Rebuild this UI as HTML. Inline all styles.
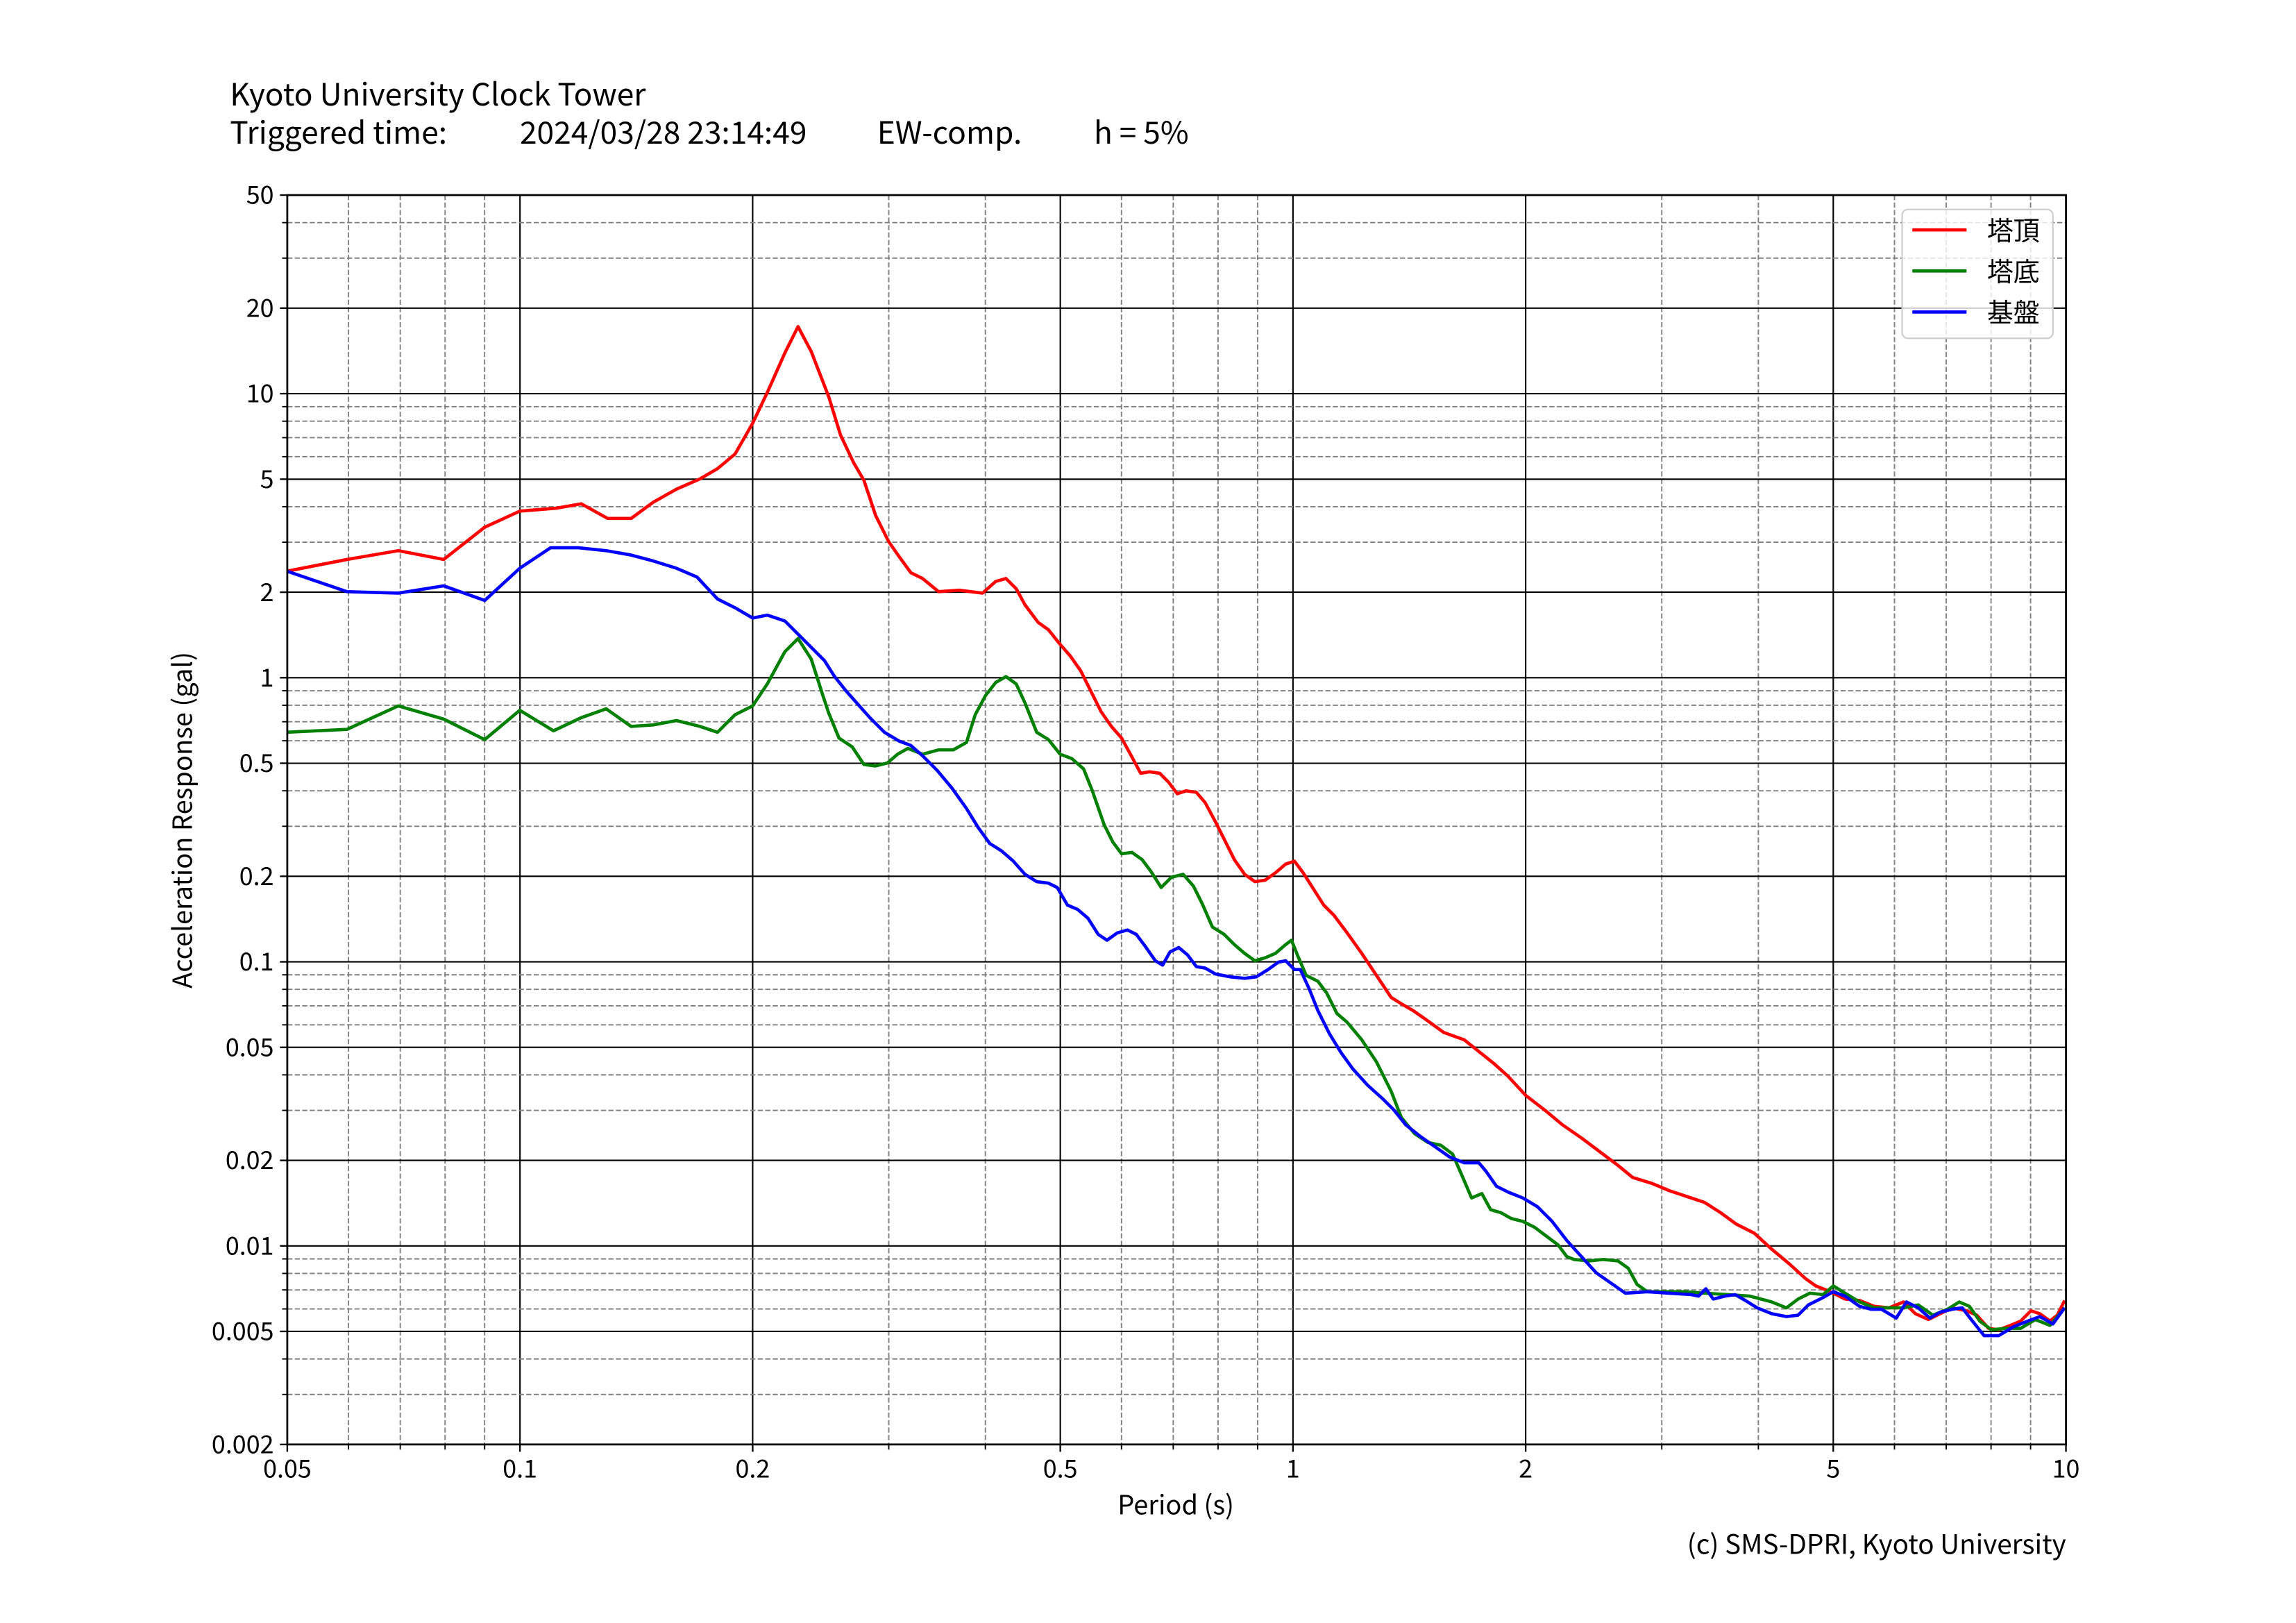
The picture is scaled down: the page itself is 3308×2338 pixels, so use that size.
<!DOCTYPE html>
<html><head><meta charset="utf-8"><style>
html,body{margin:0;padding:0;background:#fff;}
svg{display:block;}
text{font-family:"Noto Sans CJK JP","Liberation Sans",sans-serif;fill:#000;}
</style></head><body>
<svg id="s" width="3308" height="2338" viewBox="0 0 1568 1108.2" xmlns="http://www.w3.org/2000/svg">
<rect width="1568" height="1108.2" fill="#fff"/>
<g id="grid"></g>
<g fill="none" stroke-width="2.2" stroke-linejoin="round">
<polyline stroke="#ff0000" points="196,390 237,382 272,376 303,382 331,360 355,349 380,347 397,344 415,354 431,354 446,343 462,334 478,327 490,320 502,310 514,289 524,268 536,241 545,223 554,240 566,271 574,297 583,316 590,328 598,352 607,370 614,380 622,391 630,395 641,404 655,403 671,405 680,397 687,395 694,402 700,413 709,425 716,430 724,440 731,448 738,458 745,472 752,486 759,496 766,504 772,515 779,528 785,527 792,528 798,534 804,542 810,540 817,541 823,548 830,561 837,575 843,587 850,597 857,602 864,601 871,596 878,590 884,588 890,596 897,607 904,618 911,625 920,637 930,651 940,666 950,681 958,686 965,690 975,697 986,705 1000,710 1010,718 1020,726 1030,735 1042,748 1055,758 1067,768 1080,777 1092,786 1104,795 1115,804 1128,808 1140,813 1152,817 1164,821 1175,828 1186,836 1198,842 1210,853 1222,863 1233,873 1240,878 1250,882 1260,887 1270,888 1280,892 1290,893 1300,889 1308,897 1317,901 1325,897 1333,893 1343,895 1350,898 1358,907 1365,908 1373,905 1380,902 1387,895 1393,897 1400,902 1405,898 1410,888"/>
<polyline stroke="#008000" points="196,500 237,498 272,482 303,491 331,505 355,485 378,499 397,490 414,484 431,496 446,495 462,492 478,496 490,500 502,488 514,482 524,467 536,445 545,436 554,450 562,475 566,487 573,504 582,510 590,522 598,523 606,521 613,515 620,511 630,515 641,512 651,512 660,507 666,488 673,475 680,466 687,462 694,467 700,480 708,500 716,505 724,515 732,518 740,525 746,540 754,563 760,575 766,583 773,582 780,587 786,595 793,606 800,599 808,597 815,605 821,617 828,633 836,638 843,645 850,651 857,656 864,654 871,651 878,645 882,642 886,652 892,666 900,670 906,678 913,692 920,698 930,710 940,725 950,745 957,763 966,774 975,780 984,782 992,788 999,804 1005,818 1012,815 1018,826 1025,828 1032,832 1040,834 1048,838 1056,844 1064,850 1070,858 1075,860 1085,861 1095,860 1105,861 1112,866 1118,877 1125,882 1135,882 1150,882 1165,883 1180,884 1195,885 1210,889 1220,893 1228,887 1236,883 1245,884 1252,878 1260,883 1270,889 1280,893 1290,893 1300,893 1310,891 1320,898 1330,894 1338,889 1345,892 1352,902 1360,908 1370,907 1380,907 1390,901 1400,905 1410,893"/>
<polyline stroke="#0000ff" points="196,390 237,404 272,405 303,400 331,410 355,388 376,374 395,374 414,376 431,379 446,383 462,388 476,394 490,409 502,415 514,422 524,420 536,424 545,433 554,442 563,451 570,462 578,472 586,481 594,490 604,500 614,506 622,509 630,516 640,526 650,538 660,552 668,565 676,576 684,581 692,588 700,597 708,602 716,603 722,606 729,618 736,621 743,627 750,638 756,642 763,637 770,635 776,638 782,646 789,656 794,659 799,650 805,647 811,652 817,660 823,661 830,665 840,667 850,668 858,667 866,662 873,657 878,656 884,662 888,662 894,675 900,690 908,706 916,719 924,730 934,741 944,750 952,758 960,768 970,776 980,783 990,790 1000,794 1010,794 1015,800 1022,810 1030,814 1040,818 1050,824 1060,834 1070,847 1080,858 1090,869 1100,876 1110,883 1125,882 1140,883 1155,884 1160,885 1165,880 1170,887 1178,885 1185,884 1192,888 1200,893 1210,897 1220,899 1228,898 1235,891 1245,886 1252,882 1260,885 1270,892 1278,894 1285,894 1295,900 1302,889 1310,893 1318,900 1325,896 1333,894 1340,893 1347,902 1355,912 1365,912 1375,906 1385,902 1393,899 1402,904 1410,893"/>
</g>
<rect x="196.2" y="133.2" width="1214.7" height="853.1" fill="none" stroke="#000" stroke-width="1.3"/>
<g id="ticks"></g>
<rect x="1299" y="143" width="103" height="88" rx="4" fill="#fff" fill-opacity="0.8" stroke="#cccccc" stroke-width="1"/>
<line x1="1306" y1="157" x2="1343" y2="157" stroke="#ff0000" stroke-width="2.2"/>
<line x1="1306" y1="185" x2="1343" y2="185" stroke="#008000" stroke-width="2.2"/>
<line x1="1306" y1="213" x2="1343" y2="213" stroke="#0000ff" stroke-width="2.2"/>
<text x="1357" y="164" font-size="18">塔頂</text>
<text x="1357" y="192" font-size="18">塔底</text>
<text x="1357" y="220" font-size="18">基盤</text>
<text x="157" y="72" font-size="21">Kyoto University Clock Tower</text>
<text x="157" y="98" font-size="21">Triggered time:</text>
<text x="355" y="98" font-size="21">2024/03/28 23:14:49</text>
<text x="599" y="98" font-size="21">EW-comp.</text>
<text x="747" y="98" font-size="21">h = 5%</text>
<text x="803" y="1034" font-size="18">Period (s)</text>
<text transform="translate(131,560) rotate(-90)" font-size="18" text-anchor="middle">Acceleration Response (gal)</text>
<text x="1411" y="1061" font-size="18.3" text-anchor="end">(c) SMS-DPRI, Kyoto University</text>
</svg>
<script>
(function(){
var NS="http://www.w3.org/2000/svg";
var L=196.2,R=1410.9,T=133.2,B=986.3;
function X(v){return L+Math.log10(v/0.05)/Math.log10(200)*(R-L);}
function Y(v){return B-Math.log10(v/0.002)/Math.log10(25000)*(B-T);}
var g=document.getElementById('grid'),tk=document.getElementById('ticks');
function el(p,n,a){var e=document.createElementNS(NS,n);for(var k in a)e.setAttribute(k,a[k]);p.appendChild(e);return e;}
var pl=document.querySelector('text[x="803"]');pl.setAttribute('text-anchor','middle');
var xm=[0.05,0.1,0.2,0.5,1,2,5,10],xl=["0.05","0.1","0.2","0.5","1","2","5","10"];
var xn=[0.06,0.07,0.08,0.09,0.3,0.4,0.6,0.7,0.8,0.9,3,4,6,7,8,9];
xn.forEach(function(v){var x=X(v);el(g,'line',{x1:x,x2:x,y1:T,y2:B,stroke:'#808080','stroke-width':0.9,'stroke-dasharray':'3.5,1.6'});el(tk,'line',{x1:x,x2:x,y1:B,y2:B+3.5,stroke:'#000','stroke-width':0.9});});
xm.forEach(function(v,i){var x=X(v);el(g,'line',{x1:x,x2:x,y1:T,y2:B,stroke:'#000','stroke-width':1});el(tk,'line',{x1:x,x2:x,y1:B,y2:B+5,stroke:'#000','stroke-width':1.1});var t=el(tk,'text',{x:x,y:1009,'font-size':17,'text-anchor':'middle'});t.textContent=xl[i];});
var ym=[0.002,0.005,0.01,0.02,0.05,0.1,0.2,0.5,1,2,5,10,20,50],yl=["0.002","0.005","0.01","0.02","0.05","0.1","0.2","0.5","1","2","5","10","20","50"];
var yn=[];[0.001,0.01,0.1,1,10].forEach(function(d){[3,4,6,7,8,9].forEach(function(m){var v=d*m;if(v>0.002&&v<50)yn.push(v);});});
yn.forEach(function(v){var y=Y(v);el(g,'line',{x1:L,x2:R,y1:y,y2:y,stroke:'#808080','stroke-width':0.9,'stroke-dasharray':'3.5,1.6'});el(tk,'line',{x1:L-3.5,x2:L,y1:y,y2:y,stroke:'#000','stroke-width':0.9});});
ym.forEach(function(v,i){var y=Y(v);el(g,'line',{x1:L,x2:R,y1:y,y2:y,stroke:'#000','stroke-width':1});el(tk,'line',{x1:L-5,x2:L,y1:y,y2:y,stroke:'#000','stroke-width':1.1});var t=el(tk,'text',{x:187,y:y+6,'font-size':17,'text-anchor':'end'});t.textContent=yl[i];});
})();
</script>
</body></html>
